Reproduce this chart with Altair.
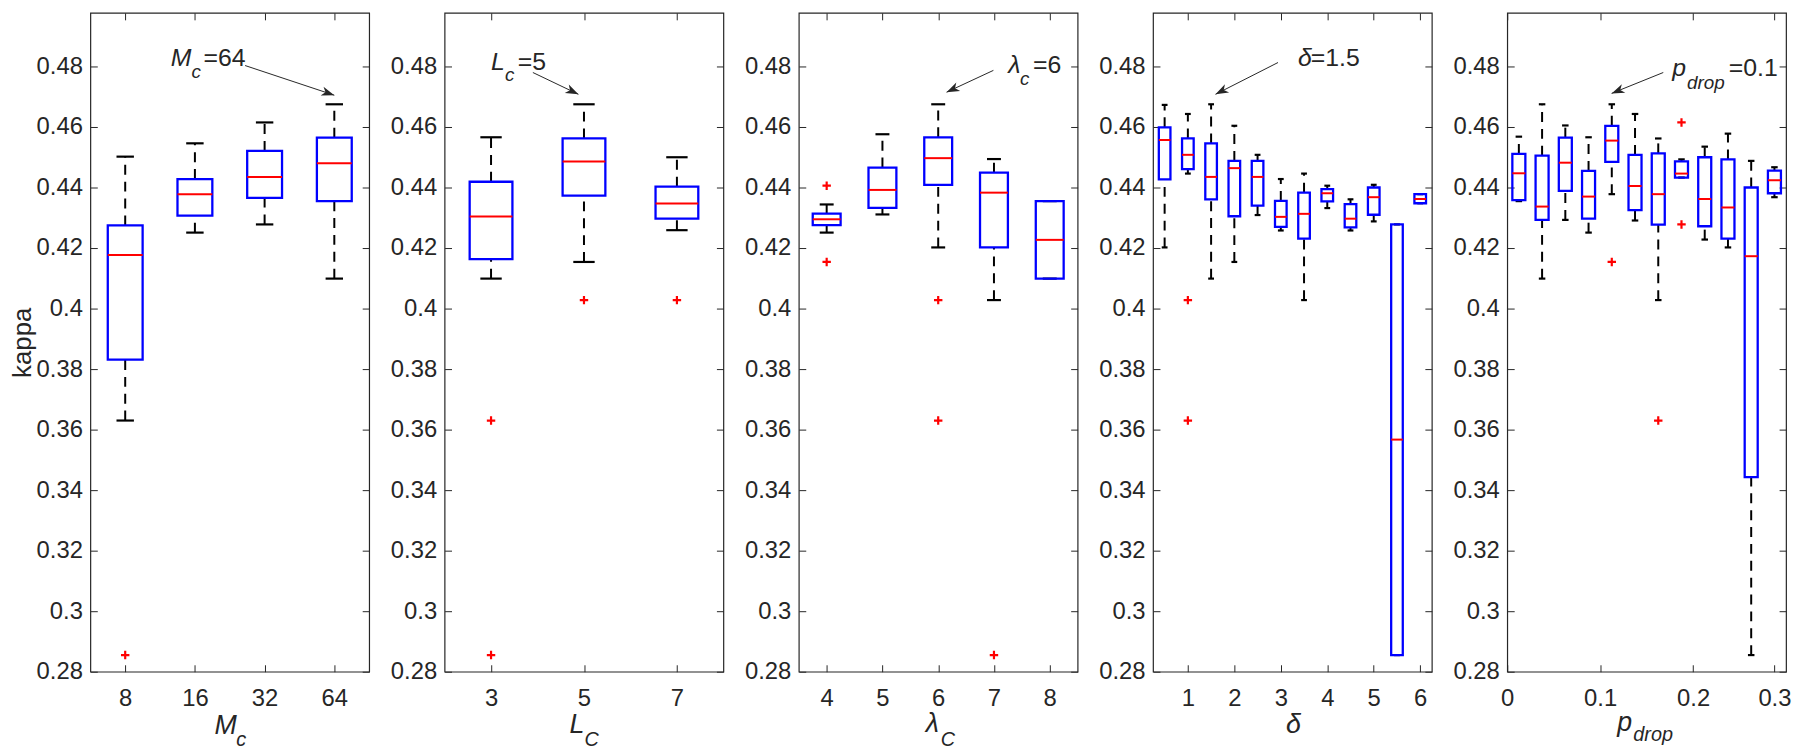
import math
import altair as alt
import pandas as pd

# ---------------- data ----------------
y_ticks = [0.28, 0.30, 0.32, 0.34, 0.36, 0.38, 0.40, 0.42, 0.44, 0.46, 0.48]

# Panel 1 : M_c
mc_labels = ["8", "16", "32", "64"]
mc_pos = [1, 2, 3, 4]
mc_hi = [0.4502, 0.4546, 0.4615, 0.4675]
mc_q3 = [0.4275, 0.4428, 0.4521, 0.4565]
mc_med = [0.4177, 0.4378, 0.4435, 0.4480]
mc_q1 = [0.3831, 0.4307, 0.4366, 0.4355]
mc_lo = [0.3630, 0.4251, 0.4278, 0.4099]
mc_out_pos = [1]
mc_out_val = [0.2855]

# Panel 2 : L_C
lc_labels = ["3", "5", "7"]
lc_pos = [1, 2, 3]
lc_hi = [0.4566, 0.4675, 0.4500]
lc_q3 = [0.4419, 0.4562, 0.4403]
lc_med = [0.4304, 0.4486, 0.4347]
lc_q1 = [0.4163, 0.4373, 0.4297]
lc_lo = [0.4099, 0.4154, 0.4259]
lc_out_pos = [1, 1, 2, 3]
lc_out_val = [0.3630, 0.2855, 0.4028, 0.4028]

# Panel 3 : lambda_C
lam_x = [4, 5, 6, 7, 8]
lam_hi = [0.4344, 0.4576, 0.4675, 0.4494, 0.4355]
lam_q3 = [0.4314, 0.4466, 0.4566, 0.4449, 0.4355]
lam_med = [0.4295, 0.4392, 0.4497, 0.4383, 0.4227]
lam_q1 = [0.4276, 0.4333, 0.4409, 0.4202, 0.4099]
lam_lo = [0.4251, 0.4311, 0.4202, 0.4028, 0.4099]
lam_out_x = [4, 4, 6, 6, 7]
lam_out_val = [0.4406, 0.4154, 0.4028, 0.3630, 0.2855]

# Panel 4 : delta
del_x = [0.5, 1.0, 1.5, 2.0, 2.5, 3.0, 3.5, 4.0, 4.5, 5.0, 5.5, 6.0]
del_hi = [0.4673, 0.4643, 0.4675, 0.4604, 0.4508, 0.4428, 0.4446, 0.4406, 0.4361, 0.4409, 0.4278, 0.4378]
del_q3 = [0.4599, 0.4562, 0.4546, 0.4488, 0.4488, 0.4356, 0.4383, 0.4395, 0.4345, 0.4400, 0.4278, 0.4378]
del_med = [0.4557, 0.4508, 0.4435, 0.4464, 0.4435, 0.4303, 0.4313, 0.4381, 0.4297, 0.4368, 0.3567, 0.4362]
del_q1 = [0.4427, 0.4461, 0.4361, 0.4305, 0.4340, 0.4270, 0.4231, 0.4354, 0.4268, 0.4310, 0.2855, 0.4348]
del_lo = [0.4202, 0.4446, 0.4099, 0.4154, 0.4309, 0.4258, 0.4028, 0.4332, 0.4258, 0.4288, 0.2855, 0.4348]
del_out_x = [1.0, 1.0]
del_out_val = [0.4028, 0.3630]

# Panel 5 : p_drop
pdp_x = [0.0125, 0.0375, 0.0625, 0.0875, 0.1125, 0.1375, 0.1625, 0.1875, 0.2125, 0.2375, 0.2625, 0.2875]
pdp_hi = [0.4568, 0.4675, 0.4605, 0.4566, 0.4675, 0.4643, 0.4562, 0.4493, 0.4535, 0.4578, 0.4488, 0.4467]
pdp_q3 = [0.4511, 0.4505, 0.4565, 0.4455, 0.4604, 0.4508, 0.4513, 0.4486, 0.4500, 0.4493, 0.4400, 0.4456]
pdp_med = [0.4447, 0.4337, 0.4482, 0.4370, 0.4555, 0.4405, 0.4378, 0.4446, 0.4362, 0.4334, 0.4173, 0.4424]
pdp_q1 = [0.4358, 0.4293, 0.4389, 0.4297, 0.4485, 0.4325, 0.4277, 0.4433, 0.4272, 0.4231, 0.3443, 0.4381]
pdp_lo = [0.4355, 0.4099, 0.4293, 0.4251, 0.4378, 0.4291, 0.4028, 0.4433, 0.4228, 0.4202, 0.2855, 0.4368]
pdp_out_x = [0.1125, 0.1625, 0.1875, 0.1875]
pdp_out_val = [0.4154, 0.3630, 0.4615, 0.4278]
pdp_tick_vals = [0, 0.1, 0.2, 0.2875]
pdp_tick_labels = ["0", "0.1", "0.2", "0.3"]

# Annotations (data coordinates): text anchor and arrow start/tip
ann_mc = dict(tx=1.653, ty=0.4800, xs=2.72, ys=0.4803, xt=4.00, yt=0.4705)
ann_lc = dict(tx=1.000, ty=0.4787, xs=1.45, ys=0.4780, xt=1.94, yt=0.4708)
ann_lam = dict(tx=7.254, ty=0.4777, xs=6.99, ys=0.4787, xt=6.15, yt=0.4715)
ann_del = dict(tx=3.368, ty=0.4800, xs=2.94, ys=0.4813, xt=1.595, yt=0.4708)
ann_pdp = dict(tx=0.1775, ty=0.4769, xs=0.1679, ys=0.4780, xt=0.1123, yt=0.4711)

# ---------------- style ----------------
FONT = "Liberation Sans"
INK = "#262626"
BLUE = "#0000FF"
RED = "#FF0000"
Y0, Y1 = 0.28, 0.4977
W, H = 281, 664
TK = 7
PLUS = "M-1,0L1,0M0,-1L0,1"
ARROW = "M0,0L-1,-0.36L-0.72,0L-1,0.36Z"


def tick_axis(orient, values):
    return alt.Axis(orient=orient, values=values, labels=False, domain=False, grid=False,
                    ticks=True, tickSize=TK, offset=-TK, tickColor=INK, tickWidth=1, title=None)


def panel(xv, hi, q3, med, q1, lo, ox, oy, xdom, hw, xt_vals, xt_expr, ann, ann_parts,
          title_parts, ytitle):
    xs = alt.Scale(domain=xdom, nice=False, zero=False)
    ys = alt.Scale(domain=[Y0, Y1], nice=False, zero=False)
    df = pd.DataFrame({"x": xv, "hi": hi, "q3": q3, "med": med, "q1": q1, "lo": lo})
    base = alt.Chart(df).transform_calculate(
        bl=f"datum.x - {hw}", br=f"datum.x + {hw}",
        cl=f"datum.x - {hw / 2}", cr=f"datum.x + {hw / 2}")

    xkw = dict(orient="bottom", values=xt_vals, labelAngle=0, ticks=False, tickSize=0,
               domain=False, grid=False, labelPadding=15, labelFlush=False, title=None)
    if xt_expr:
        xkw["labelExpr"] = xt_expr
    ax_x = alt.Axis(**xkw)
    ykw = dict(orient="left", values=y_ticks, format="~g", ticks=False, tickSize=0,
               domain=False, grid=False, labelPadding=8, labelFlush=False)
    if ytitle:
        ykw.update(title=ytitle, titleFontSize=26, titleFont=FONT, titleFontWeight="normal",
                   titleColor=INK, titlePadding=1)
    else:
        ykw["title"] = None
    ax_y = alt.Axis(**ykw)

    def X(f, axis=None):
        return alt.X(f, type="quantitative", scale=xs, axis=axis)

    def Y(f, axis=None):
        return alt.Y(f, type="quantitative", scale=ys, axis=axis)

    wh_lo = base.mark_rule(color="black", strokeWidth=2, strokeDash=[10, 7]).encode(
        x=X("x", tick_axis("bottom", xt_vals)), y=Y("lo", tick_axis("left", y_ticks)), y2="q1:Q")
    wh_hi = base.mark_rule(color="black", strokeWidth=2, strokeDash=[10, 7]).encode(
        x=X("x", tick_axis("top", xt_vals)), y=Y("q3", tick_axis("right", y_ticks)), y2="hi:Q")
    cap_lo = base.mark_rule(color="black", strokeWidth=2.2).encode(
        x=X("cl"), x2="cr:Q", y=Y("lo"))
    cap_hi = base.mark_rule(color="black", strokeWidth=2.2).encode(
        x=X("cl"), x2="cr:Q", y=Y("hi"))
    box = base.mark_rect(fill="white", fillOpacity=0, stroke=BLUE, strokeWidth=2.3).encode(
        x=X("bl", ax_x), x2="br:Q", y=Y("q1", ax_y), y2="q3:Q")
    medl = base.mark_rule(color=RED, strokeWidth=2).encode(
        x=X("bl"), x2="br:Q", y=Y("med"))
    odf = pd.DataFrame({"x": ox, "v": oy})
    outl = alt.Chart(odf).mark_point(shape=PLUS, size=72, stroke=RED, strokeWidth=2.2,
                                     filled=False, opacity=1).encode(x=X("x"), y=Y("v"))

    adf = pd.DataFrame([ann])
    pxx = W / (xdom[1] - xdom[0])
    pxy = H / (Y1 - Y0)
    ang = math.degrees(math.atan2(-(ann["yt"] - ann["ys"]) * pxy,
                                  (ann["xt"] - ann["xs"]) * pxx)) % 360
    arrow = alt.Chart(adf).mark_rule(color=INK, strokeWidth=1).encode(
        x=X("xs"), y=Y("ys"), x2="xt:Q", y2="yt:Q")
    head = alt.Chart(adf).mark_point(shape=ARROW, size=676, filled=True, color=INK,
                                     opacity=1, angle=ang).encode(x=X("xt"), y=Y("yt"))
    layers = [wh_lo, wh_hi, cap_lo, cap_hi, box, medl, outl, arrow, head]
    for (txt, dx, dy, size, style) in ann_parts:
        layers.append(alt.Chart(adf).mark_text(
            text=txt, dx=dx, dy=dy, fontSize=size, fontStyle=style, font=FONT, color=INK,
            align="left", baseline="alphabetic").encode(x=X("tx"), y=Y("ty")))
    one = pd.DataFrame({"k": [0]})
    for (txt, px, py, size) in title_parts:
        layers.append(alt.Chart(one).mark_text(
            text=txt, fontSize=size, fontStyle="italic", font=FONT, color=INK,
            align="left", baseline="alphabetic").encode(x=alt.value(px), y=alt.value(py)))

    return alt.layer(*layers).resolve_axis(x="independent", y="independent").properties(
        width=W, height=H)


def lab_expr(labels):
    arr = ",".join(f"'{s}'" for s in labels)
    return f"[{arr}][datum.value - 1]"


p1 = panel(mc_pos, mc_hi, mc_q3, mc_med, mc_q1, mc_lo, mc_out_pos, mc_out_val,
           [0.5, 4.5], 0.25, mc_pos, lab_expr(mc_labels), ann_mc,
           [("M", 0, 0, 25, "italic"), ("c", 21, 12, 19, "italic"), ("=64", 33, 0, 25, "normal")],
           [("M", 125, H + 63, 27), ("c", 147, H + 75, 20)], "kappa")
p2 = panel(lc_pos, lc_hi, lc_q3, lc_med, lc_q1, lc_lo, lc_out_pos, lc_out_val,
           [0.5, 3.5], 0.23, lc_pos, lab_expr(lc_labels), ann_lc,
           [("L", 0, 0, 25, "italic"), ("c", 14, 11, 19, "italic"), ("=5", 27, 0, 25, "normal")],
           [("L", 126, H + 62, 27), ("C", 141, H + 75, 20)], None)
p3 = panel(lam_x, lam_hi, lam_q3, lam_med, lam_q1, lam_lo, lam_out_x, lam_out_val,
           [3.5, 8.5], 0.25, lam_x, None, ann_lam,
           [("λ", 0, 0, 25, "italic"), ("c", 12, 12, 19, "italic"), ("=6", 25, 0, 25, "normal")],
           [("λ", 128, H + 61, 27), ("C", 143, H + 75, 20)], None)
p4 = panel(del_x, del_hi, del_q3, del_med, del_q1, del_lo, del_out_x, del_out_val,
           [0.25, 6.25], 0.125, [1, 2, 3, 4, 5, 6], None, ann_del,
           [("δ", 0, 0, 25, "italic"), ("=1.5", 13, 0, 25, "normal")],
           [("δ", 134, H + 62, 27)], None)
pdp_expr = ("[" + ",".join(f"'{s}'" for s in pdp_tick_labels) + "][indexof(["
            + ",".join(str(v) for v in pdp_tick_vals) + "], datum.value)]")
p5 = panel(pdp_x, pdp_hi, pdp_q3, pdp_med, pdp_q1, pdp_lo, pdp_out_x, pdp_out_val,
           [0, 0.3], 0.007, pdp_tick_vals, pdp_expr, ann_pdp,
           [("p", 0, 0, 25, "italic"), ("drop", 15, 13, 19, "italic"), ("=0.1", 57, 0, 25, "normal")],
           [("p", 111, H + 60, 27), ("drop", 127, H + 70, 20)], None)

chart = alt.hconcat(p1, p2, p3, p4, p5, spacing=76, bounds="flush").properties(
    padding=0, background="white"
).configure_view(stroke=INK, strokeWidth=1.2).configure_axis(
    labelFont=FONT, labelFontSize=24, labelColor=INK
)

chart.save("out.html", embed_options={"renderer": "svg", "actions": False})
